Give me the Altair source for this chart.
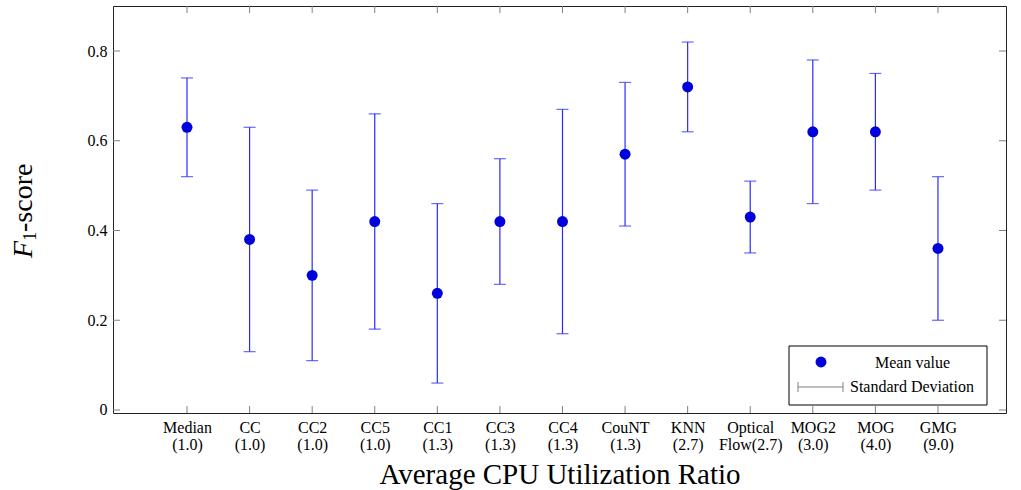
import altair as alt
import pandas as pd

methods = ["Median", "CC", "CC2", "CC5", "CC1", "CC3", "CC4", "CouNT", "KNN",
           "Optical", "MOG2", "MOG", "GMG"]
ratios = ["(1.0)", "(1.0)", "(1.0)", "(1.0)", "(1.3)", "(1.3)", "(1.3)", "(1.3)",
          "(2.7)", "Flow(2.7)", "(3.0)", "(4.0)", "(9.0)"]
means = [0.63, 0.38, 0.30, 0.42, 0.26, 0.42, 0.42, 0.57, 0.72, 0.43, 0.62, 0.62, 0.36]
lows = [0.52, 0.13, 0.11, 0.18, 0.06, 0.28, 0.17, 0.41, 0.62, 0.35, 0.46, 0.49, 0.20]
highs = [0.74, 0.63, 0.49, 0.66, 0.46, 0.56, 0.67, 0.73, 0.82, 0.51, 0.78, 0.75, 0.52]
y_ticks = [0, 0.2, 0.4, 0.6, 0.8]

FONT = "Liberation Serif"
W, H = 893, 407
POINT = "#0000dd"
BAR = "#2a2aff"
TICK = "#808080"

df = pd.DataFrame({"idx": list(range(len(methods))), "method": methods,
                   "mean": means, "low": lows, "high": highs})
yt = pd.DataFrame({"v": y_ticks})
one = pd.DataFrame({"a": [0]})

lab_arr = "[" + ",".join("'%s|%s'" % (m, r) for m, r in zip(methods, ratios)) + "]"

xscale = alt.Scale(domain=[-1.1825, 13.087], nice=False, zero=False)
yscale = alt.Scale(domain=[-0.0067, 0.9003], nice=False, zero=False)

xaxis = alt.Axis(values=list(range(len(methods))), ticks=False, domain=False, grid=False,
                 labelExpr="split(" + lab_arr + "[datum.value], '|')",
                 labelFont=FONT, labelFontSize=16, labelColor="#000",
                 labelLineHeight=17, labelPadding=6, labelBaseline="top",
                 title="Average CPU Utilization Ratio", titleFont=FONT, titleFontSize=29,
                 titleFontWeight="normal", titleColor="#000", titleY=70,
                 titleBaseline="alphabetic")
yaxis = alt.Axis(values=y_ticks, ticks=False, domain=False, grid=False,
                 labelExpr="datum.value == 0 ? '0' : format(datum.value, '.1f')",
                 labelFont=FONT, labelFontSize=16, labelColor="#000", labelPadding=6,
                 title=None)

base = alt.Chart(df)

rules = base.mark_rule(color=BAR, strokeWidth=1.2).encode(
    x=alt.X("idx:Q", scale=xscale, axis=xaxis),
    y=alt.Y("low:Q", scale=yscale, axis=yaxis),
    y2="high:Q")
cap_lo = base.mark_tick(color=BAR, orient="horizontal", size=12, thickness=1.2).encode(
    x=alt.X("idx:Q", scale=xscale), y=alt.Y("low:Q", scale=yscale))
cap_hi = base.mark_tick(color=BAR, orient="horizontal", size=12, thickness=1.2).encode(
    x=alt.X("idx:Q", scale=xscale), y=alt.Y("high:Q", scale=yscale))
pts = base.mark_circle(color=POINT, opacity=1, size=120).encode(
    x=alt.X("idx:Q", scale=xscale), y=alt.Y("mean:Q", scale=yscale))

# inward ticks (mirrored)
xt_bot = base.mark_rule(color=TICK, strokeWidth=1).encode(
    x=alt.X("idx:Q", scale=xscale), y=alt.value(H), y2=alt.value(H - 7))
xt_top = base.mark_rule(color=TICK, strokeWidth=1).encode(
    x=alt.X("idx:Q", scale=xscale), y=alt.value(0), y2=alt.value(7))
yt_l = alt.Chart(yt).mark_rule(color=TICK, strokeWidth=1).encode(
    y=alt.Y("v:Q", scale=yscale), x=alt.value(0), x2=alt.value(7))
yt_r = alt.Chart(yt).mark_rule(color=TICK, strokeWidth=1).encode(
    y=alt.Y("v:Q", scale=yscale), x=alt.value(W), x2=alt.value(W - 7))

# y title: italic F with subscript 1
oc = alt.Chart(one)
yF = oc.mark_text(font=FONT, fontSize=28, fontStyle="italic", angle=270, align="left",
                  baseline="alphabetic", color="#000").encode(
    x=alt.value(-81), y=alt.value(252), text=alt.value("F"))
y1 = oc.mark_text(font=FONT, fontSize=19, angle=270, align="left",
                  baseline="alphabetic", color="#000").encode(
    x=alt.value(-77), y=alt.value(235), text=alt.value("1"))
ys = oc.mark_text(font=FONT, fontSize=28, angle=270, align="left",
                  baseline="alphabetic", color="#000").encode(
    x=alt.value(-81), y=alt.value(226), text=alt.value("-score"))

# legend
lbox = oc.mark_rect(fill="white", stroke="#000", strokeWidth=1).encode(
    x=alt.value(676), x2=alt.value(874), y=alt.value(340), y2=alt.value(399))
lpt = oc.mark_circle(color=POINT, opacity=1, size=120).encode(
    x=alt.value(708), y=alt.value(356))
lbar = oc.mark_rule(color=TICK, strokeWidth=1).encode(
    x=alt.value(685), x2=alt.value(730), y=alt.value(381))
lcap1 = oc.mark_rule(color=TICK, strokeWidth=1).encode(
    x=alt.value(685), y=alt.value(376), y2=alt.value(386))
lcap2 = oc.mark_rule(color=TICK, strokeWidth=1).encode(
    x=alt.value(730), y=alt.value(376), y2=alt.value(386))
lt1 = oc.mark_text(font=FONT, fontSize=16, align="left", baseline="middle", color="#000").encode(
    x=alt.value(762), y=alt.value(357), text=alt.value("Mean value"))
lt2 = oc.mark_text(font=FONT, fontSize=16, align="left", baseline="middle", color="#000").encode(
    x=alt.value(737), y=alt.value(381), text=alt.value("Standard Deviation"))

chart = alt.layer(rules, cap_lo, cap_hi, pts, xt_bot, xt_top, yt_l, yt_r,
                  yF, y1, ys, lbox, lpt, lbar, lcap1, lcap2, lt1, lt2).properties(
    width=W, height=H,
    autosize=alt.AutoSizeParams(type="none"),
    padding={"left": 113, "top": 6, "right": 15, "bottom": 77},
    background="white",
).configure_view(stroke="#222", strokeWidth=1)

chart.save("out.html", embed_options={"renderer": "svg", "actions": False})
